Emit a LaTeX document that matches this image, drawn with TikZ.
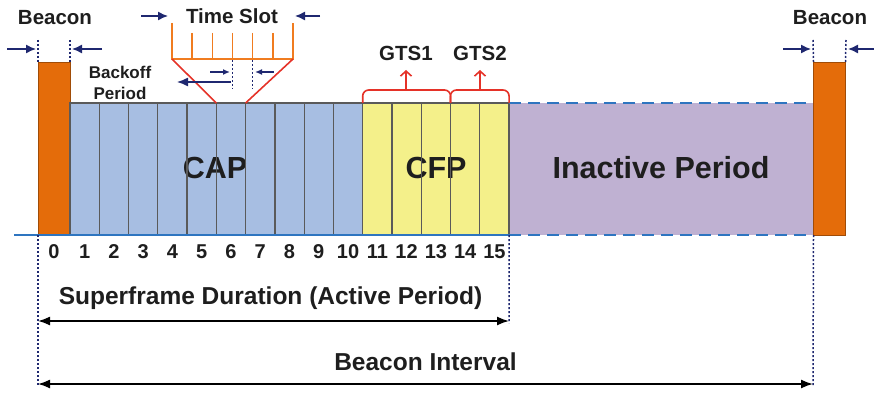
\documentclass[tikz,border=0pt]{standalone}
\usepackage{fontspec}
\setmainfont{Liberation Sans}
\usetikzlibrary{arrows.meta, positioning}

\definecolor{beaconorange}{RGB}{228,108,10}
\definecolor{capblue}{RGB}{167,190,226}
\definecolor{cfpyellow}{RGB}{244,240,138}
\definecolor{inactpurple}{RGB}{191,177,210}
\definecolor{lineblue}{RGB}{46,117,192}
\definecolor{navy}{RGB}{31,40,112}
\definecolor{comborange}{RGB}{240,124,32}
\definecolor{gtsred}{RGB}{229,50,40}
\definecolor{slotgray}{RGB}{90,90,90}
\definecolor{textgray}{RGB}{30,30,30}

\begin{document}
\begin{tikzpicture}[
    x=1pt, y=-1pt,
    >=Latex,
    every node/.style={font=\bfseries, text=textgray, align=center, inner sep=0pt},
    beaconbox/.style={fill=beaconorange, draw=beaconorange!70!black, line width=0.8pt, minimum width=32pt, minimum height=173pt, outer sep=0pt},
    slotbox/.style={minimum width=29.27pt, minimum height=132pt, outer sep=0pt},
    slotline/.style={draw=slotgray, line width=1.3pt},
    marker/.style={-{Latex[length=10pt, width=9pt]}, navy, line width=1.4pt},
    guide/.style={navy, dash pattern=on 2pt off 2pt, line width=1.5pt},
    dimline/.style={{Latex[length=12pt, width=9pt]}-{Latex[length=12pt, width=9pt]}, black, line width=1.6pt},
    comb/.style={comborange, line width=1.6pt},
    gts/.style={gtsred, line width=1.6pt, rounded corners=6pt},
    label/.style={font=\fontsize{20.5}{22}\selectfont\bfseries},
    num/.style={font=\fontsize{20}{22}\selectfont\bfseries},
    big/.style={font=\fontsize{30.5}{32}\selectfont\bfseries},
    dimtext/.style={font=\fontsize{24.5}{26}\selectfont\bfseries}
]
\useasboundingbox (0,0) rectangle (874,393);

% Beacons
\node[beaconbox] (beaconL) at (54,148.5) {};
\node[beaconbox] (beaconR) at (829.5,148.5) {};

% Slots of the superframe
\foreach \i in {1,...,15}{
    \node[slotbox, fill=capblue] (slot\i) at ({70+(\i-0.5)*29.27},169) {};
}
\foreach \i in {11,...,15}{
    \node[slotbox, fill=cfpyellow] at (slot\i) {};
}
\node[minimum width=304pt, minimum height=132pt, fill=inactpurple, outer sep=0pt] (inactive) at (661,169) {};

% Labels inside
\node[big] (cap) at (215,168) {CAP};
\node[big] (cfp) at (436,168) {CFP};
\node[big] (inact) at (661,168) {Inactive Period};

\foreach \i in {1,...,15}{
    \draw[slotline] (slot\i.south west) rectangle (slot\i.north east);
}

% Base lines
\coordinate (baseL) at (14,235);
\draw[lineblue, line width=1.6pt] (baseL) -- (slot15.south east);
\draw[lineblue, line width=1.8pt, dash pattern=on 12pt off 7pt] (inactive.north west) -- (inactive.north east);
\draw[lineblue, line width=1.8pt, dash pattern=on 12pt off 7pt] (inactive.south west) -- (inactive.south east);

% Slot numbers
\node[num] (n0) at (54,252) {0};
\foreach \i in {1,...,15}{
    \node[num] (n\i) at ({70+(\i-0.5)*29.27},252) {\i};
}

% Beacon markers
\node[label] (beacontxtL) at (55,18) {Beacon};
\node[label] (beacontxtR) at (830,18) {Beacon};
\coordinate (bLa) at (38,40);
\coordinate (bLb) at (70,40);
\coordinate (bRa) at (813,40);
\coordinate (bRb) at (846,40);
\draw[guide] (bLa) -- (beaconL.north west);
\draw[guide] (bLb) -- (beaconL.north east);
\draw[guide] (bRa) -- (beaconR.north west);
\draw[guide] (bRb) -- (beaconR.north east);
\draw[marker] (7,49) -- (36,49);
\draw[marker] (102,49) -- (72,49);
\draw[marker] (783,49) -- (811,49);
\draw[marker] (874,49) -- (848,49);

% Time slot comb
\node[label] (timeslot) at (232,16) {Time Slot};
\coordinate (combL) at (172,59);
\coordinate (combR) at (293,59);
\draw[comb] (172,23) -- (combL) -- (combR) -- (293,23);
\foreach \k in {1,...,5}{
    \draw[comb] ({172+\k*20.17},33) -- ({172+\k*20.17},59);
}
\draw[gtsred, line width=1.6pt] (combL) -- (slot6.north west);
\draw[gtsred, line width=1.6pt] (combR) -- (slot6.north east);
\draw[marker] (141,16) -- (168,16);
\draw[marker] (320,16) -- (295,16);

% Backoff period
\node[font=\fontsize{17}{21}\selectfont\bfseries] (backoff) at (120,83) {Backoff\\Period};
\draw[guide] (232.5,60) -- (232.5,89);
\draw[guide] (252.7,60) -- (252.7,89);
\draw[marker, -{Latex[length=7pt, width=6pt]}] (210,72) -- (230,72);
\draw[marker, -{Latex[length=7pt, width=6pt]}] (274,72) -- (255,72);
\draw[marker, -{Latex[length=11pt, width=9pt]}] (231,82) -- (177,82);

% GTS brackets
\draw[gts] (slot11.north west) |- (406,90) -| (slot13.north east);
\draw[gts] (slot14.north west) |- (480,90) -| (slot15.north east);
\draw[gtsred, line width=1.6pt, -{Straight Barb[length=5pt, width=11pt]}] (406,90) -- (406,70);
\draw[gtsred, line width=1.6pt, -{Straight Barb[length=5pt, width=11pt]}] (480,90) -- (480,70);
\node[label] (gts1) at (406,53) {GTS1};
\node[label] (gts2) at (480,53) {GTS2};

% Durations
\coordinate (sfL) at (38,321);
\coordinate (sfR) at (509,321);
\coordinate (biL) at (38,384);
\coordinate (biR) at (813,384);
\draw[guide] (beaconL.south west) -- (38,386);
\draw[guide] (slot15.south east) -- (509,323);
\draw[guide] (beaconR.south west) -- (813,386);
\draw[dimline] (sfL) -- node[dimtext, yshift=23pt, xshift=-3pt] {Superframe Duration (Active Period)} (sfR);
\draw[dimline] (biL) -- node[dimtext, yshift=22pt] {Beacon Interval} (biR);

\end{tikzpicture}
\end{document}
